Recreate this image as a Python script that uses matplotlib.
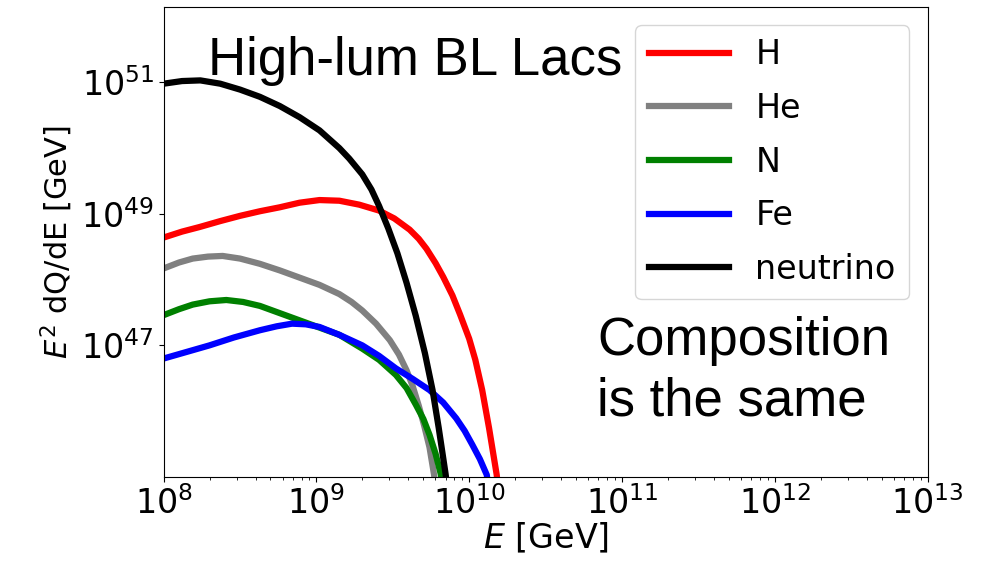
#!/usr/bin/env python3
"""
High-lum BL Lacs: E^2 dQ/dE spectra of H, He, N, Fe and neutrinos.
Values read off the reference picture (log10 of E and of E^2 dQ/dE).
"""

import numpy as np
import matplotlib.pyplot as plt
from matplotlib.ticker import NullLocator

# log10(E / GeV), log10(E^2 dQ/dE / GeV)
h_logE = [8.0, 8.12, 8.235, 8.37, 8.5, 8.63, 8.76, 8.89, 9.02, 9.15, 9.28, 9.41, 9.51,
          9.61, 9.67, 9.72, 9.78, 9.83, 9.89, 9.94, 10.0, 10.04, 10.085, 10.13, 10.18, 10.2]
h_logQ = [48.64, 48.73, 48.80, 48.89, 48.97, 49.04, 49.10, 49.17, 49.21, 49.20, 49.14, 49.05, 48.93,
          48.76, 48.62, 48.47, 48.25, 48.04, 47.76, 47.47, 47.10, 46.78, 46.32, 45.74, 45.03, 44.6]

he_logE = [8.0, 8.1, 8.19, 8.29, 8.386, 8.5, 8.63, 8.76, 8.89, 9.02, 9.15, 9.23, 9.30,
           9.39, 9.48, 9.54, 9.59, 9.63, 9.67, 9.705, 9.74, 9.77, 9.79]
he_logQ = [48.17, 48.26, 48.32, 48.35, 48.36, 48.32, 48.24, 48.14, 48.03, 47.92, 47.78, 47.66, 47.53,
           47.33, 47.08, 46.86, 46.62, 46.38, 46.08, 45.78, 45.45, 45.03, 44.6]

n_logE = [8.0, 8.1, 8.19, 8.3, 8.41, 8.52, 8.63, 8.76, 8.89, 9.02, 9.15, 9.30, 9.41,
          9.52, 9.59, 9.65, 9.70, 9.74, 9.78, 9.815, 9.83]
n_logQ = [47.46, 47.55, 47.62, 47.67, 47.69, 47.66, 47.60, 47.49, 47.38, 47.27, 47.16, 46.95, 46.78,
          46.55, 46.35, 46.10, 45.88, 45.64, 45.35, 45.03, 44.6]

fe_logE = [8.0, 8.15, 8.30, 8.46, 8.63, 8.74, 8.84, 8.93, 9.02, 9.15, 9.30, 9.41, 9.52,
           9.63, 9.74, 9.83, 9.915, 9.97, 10.02, 10.07, 10.115, 10.14]
fe_logQ = [46.80, 46.90, 47.00, 47.12, 47.23, 47.29, 47.33, 47.32, 47.28, 47.16, 47.00, 46.84, 46.65,
           46.49, 46.32, 46.13, 45.89, 45.70, 45.49, 45.27, 45.03, 44.6]

nu_logE = [8.0, 8.12, 8.24, 8.37, 8.5, 8.63, 8.76, 8.89, 9.02, 9.15, 9.215, 9.30, 9.36,
           9.41, 9.47, 9.53, 9.59, 9.65, 9.71, 9.76, 9.80, 9.845, 9.87]
nu_logQ = [50.98, 51.02, 51.03, 50.98, 50.89, 50.78, 50.64, 50.47, 50.27, 50.00, 49.84, 49.60, 49.37,
           49.12, 48.78, 48.40, 47.95, 47.45, 46.88, 46.32, 45.75, 45.05, 44.6]

series = [
    ("H", "red", h_logE, h_logQ),
    ("He", "gray", he_logE, he_logQ),
    ("N", "green", n_logE, n_logQ),
    ("Fe", "blue", fe_logE, fe_logQ),
    ("neutrino", "black", nu_logE, nu_logQ),
]


def main():
    fig = plt.figure(figsize=(9.92, 5.63), dpi=100)
    ax = fig.add_axes([0.165, 0.153, 0.770, 0.835])

    for name, color, le, lq in series:
        ax.plot(10 ** np.array(le), 10 ** np.array(lq), color=color, lw=4.5,
                label=name, solid_joinstyle="round")

    ax.set_xscale("log")
    ax.set_yscale("log")
    ax.set_xlim(1e8, 1e13)
    ax.set_ylim(1e45, 10 ** 52.15)
    ax.set_yticks([1e47, 1e49, 1e51])
    ax.yaxis.set_minor_locator(NullLocator())
    ax.tick_params(labelsize=24)

    ax.set_xlabel("$E$ [GeV]", fontsize=24, labelpad=0)
    ax.set_ylabel("$E^2$ dQ/dE [GeV]", fontsize=22, labelpad=4)

    ax.legend(loc="upper right", fontsize=24, handlelength=2.4,
              handletextpad=0.8, borderaxespad=0.55, labelspacing=0.62)

    fig.text(208 / 992, 1 - 75 / 563, "High-lum BL Lacs", fontsize=38,
             family="Liberation Sans", va="baseline", ha="left")
    fig.text(597 / 992, 1 - 355 / 563, "Composition", fontsize=38,
             family="Liberation Sans", va="baseline", ha="left")
    fig.text(597 / 992, 1 - 415 / 563, "is the same", fontsize=38,
             family="Liberation Sans", va="baseline", ha="left")

    fig.savefig("out.png", dpi=100)
    plt.close(fig)


if __name__ == "__main__":
    main()
